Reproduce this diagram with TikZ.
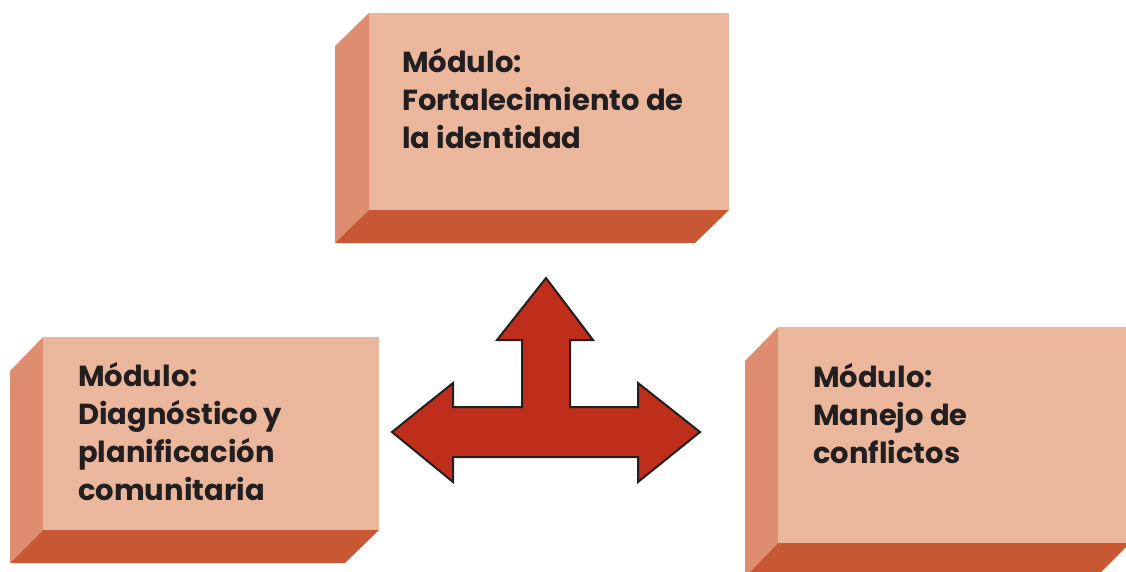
\documentclass[tikz,border=0pt]{standalone}
\usepackage{fontspec}
\setmainfont{Poppins}
\definecolor{facec}{HTML}{EAB79D}
\definecolor{sidec}{HTML}{DE8D70}
\definecolor{botc}{HTML}{C85733}
\definecolor{arrowc}{HTML}{BE2E1A}
\definecolor{inkc}{HTML}{231F20}
\tikzset{
  face/.style={fill=facec,draw=none},
  side/.style={fill=sidec,draw=none},
  bottom/.style={fill=botc,draw=none},
  label/.style={anchor=base west,inner sep=0pt,align=left,text=inkc,
    font=\fontsize{29}{38}\selectfont\bfseries},
  bigarrow/.style={fill=arrowc,draw=inkc,line width=2pt,line join=miter}
}
\begin{document}
\begin{tikzpicture}[x=1pt,y=-1pt]
\useasboundingbox (0,0) rectangle (1126,571);
% top box
\fill[side] (369,13) -- (335,46) -- (335,243) -- (369,210) -- cycle;
\fill[bottom] (369,210) -- (729,210) -- (695,243) -- (335,243) -- cycle;
\fill[face] (369,13) rectangle (729,210);
\node[label] (top) at (402,148) {Módulo:\\Fortalecimiento de\\la identidad};
% left box
\fill[side] (43,337) -- (10,371) -- (10,563) -- (43,530) -- cycle;
\fill[bottom] (43,530) -- (379,530) -- (345,563) -- (10,563) -- cycle;
\fill[face] (43,337) rectangle (379,530);
\node[label] (left) at (78,500) {Módulo:\\Diagnóstico y\\planificación\\comunitaria};
% right box
\fill[side] (778,327) -- (745,361) -- (745,577) -- (778,543) -- cycle;
\fill[bottom] (778,543) -- (1130,543) -- (1096,577) -- (745,577) -- cycle;
\fill[face] (778,327) rectangle (1130,543);
\node[label] (right) at (813,463) {Módulo:\\Manejo de\\conflictos};
% three-way arrow
\draw[bigarrow] (546,278) -- (593,340) -- (570,340) -- (570,407) -- (638,407)
  -- (638,383) -- (700,432) -- (638,482) -- (638,457) -- (453,457) -- (453,482)
  -- (392,432) -- (453,383) -- (453,407) -- (522,407) -- (522,340) -- (497,340) -- cycle;
\end{tikzpicture}
\end{document}
